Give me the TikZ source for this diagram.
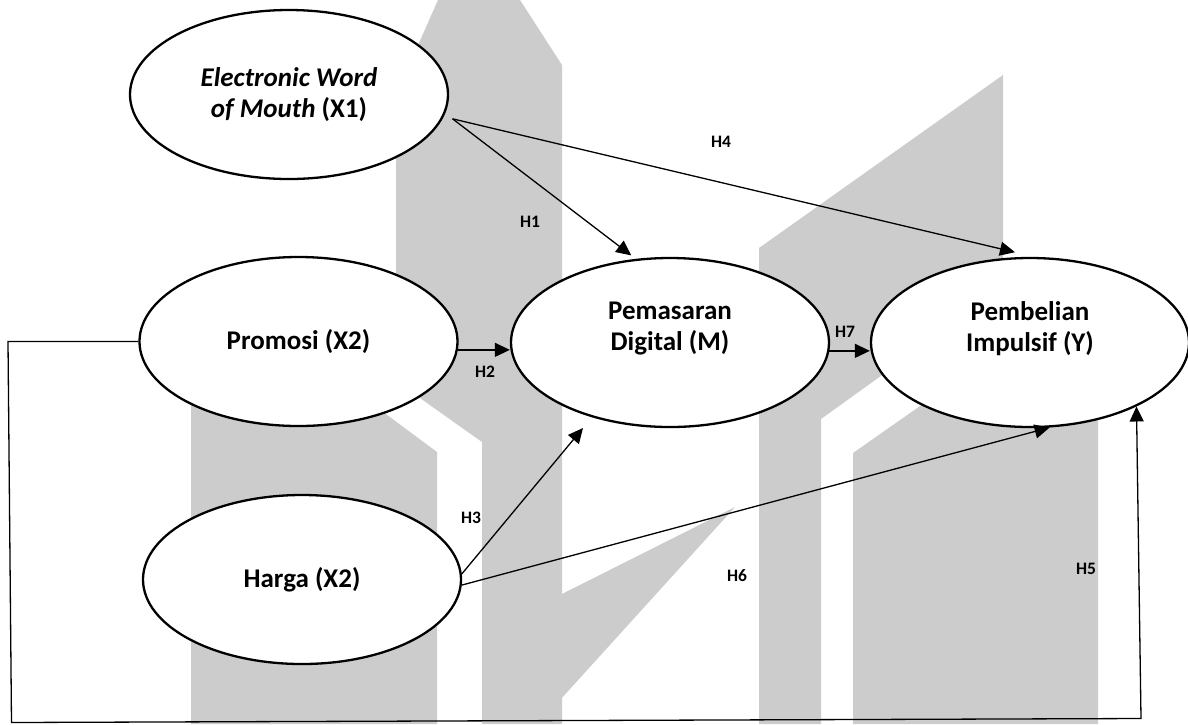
\documentclass[tikz,border=0pt]{standalone}
\usepackage{fontspec}
\setmainfont{Carlito}
\usetikzlibrary{arrows.meta,shapes.geometric}
\definecolor{wmgray}{HTML}{CCCCCC}

\begin{document}
\begin{tikzpicture}[x=1pt,y=-1pt,
  var/.style={ellipse, draw, line width=2.3pt, fill=white,
    minimum width=318pt, minimum height=169pt, inner sep=0pt,
    align=center, font=\bfseries\fontsize{27}{31}\selectfont},
  varlbl/.style={align=center, inner sep=0pt, yshift=13.5pt,
    font=\bfseries\fontsize{27}{31}\selectfont},
  hyp/.style={inner sep=0pt, font=\bfseries\fontsize{17.5}{20}\selectfont},
  link/.style={line width=1.3pt, -{Triangle[length=15pt,width=14pt]}}]

\useasboundingbox (0,0) rectangle (1188,724);
\fill[white] (0,0) rectangle (1188,724);

% background emblem
\fill[wmgray] (438,0) -- (520,0) -- (562,65) -- (562,724) -- (482,724)
  -- (482,442) -- (396,381) -- (396,95) -- cycle;
\fill[wmgray] (560,595) -- (735,507) -- (560,700) -- cycle;
\fill[wmgray] (191,380) -- (340,380) -- (437,452) -- (437,724) -- (191,724) -- cycle;
\fill[wmgray] (759,248) -- (1003,75) -- (1003,288) -- (821,419) -- (821,724)
  -- (759,724) -- cycle;
\fill[wmgray] (853,724) -- (853,453) -- (1003,348) -- (1098,348) -- (1098,724) -- cycle;

% variables
\node[var] (x1) at (289,94.5) {\textit{Electronic Word}\\\textit{of Mouth} (X1)};
\node[var] (x2) at (298.5,341.5) {Promosi (X2)};
\node[var] (x3) at (302,579.5) {Harga (X2)};
\node[var, label={[varlbl]center:Pemasaran\\Digital (M)}] (m) at (670,342.5) {};
\node[var, label={[varlbl]center:Pembelian\\Impulsif (Y)}] (y) at (1030,342.5) {};

% hypothesis labels
\node[hyp] (h1) at (530,222) {H1};
\node[hyp] (h2) at (485,372) {H2};
\node[hyp] (h3) at (471,518) {H3};
\node[hyp] (h4) at (721,142) {H4};
\node[hyp] (h5) at (1086,569) {H5};
\node[hyp] (h6) at (737,576) {H6};
\node[hyp] (h7) at (845,332) {H7};

% bend points of the H5 path
\coordinate (c1) at (8,341.5);
\coordinate (c2) at (11.5,722.5);
\coordinate (c3) at (1141,718.5);

% paths
\draw[link] ([xshift=10pt]x1.-9.5) -- ([yshift=4pt]m.115);
\draw[link] ([xshift=10pt]x1.-9.5) -- ([yshift=5pt]y.100);
\draw[link] (x2.-3) -- (x2.-3 -| m.west);
\draw[link] (m.-3) -- (m.-3 -| y.west);
\draw[link] (x3.2) -- ([shift={(-87,85.5)}]m.center);
\draw[link] (x3.-2) -- (y.-77);
\draw[link] (x2.west) -- (c1) -- (c2) -- (c3) -- (y.-31);
\end{tikzpicture}
\end{document}
